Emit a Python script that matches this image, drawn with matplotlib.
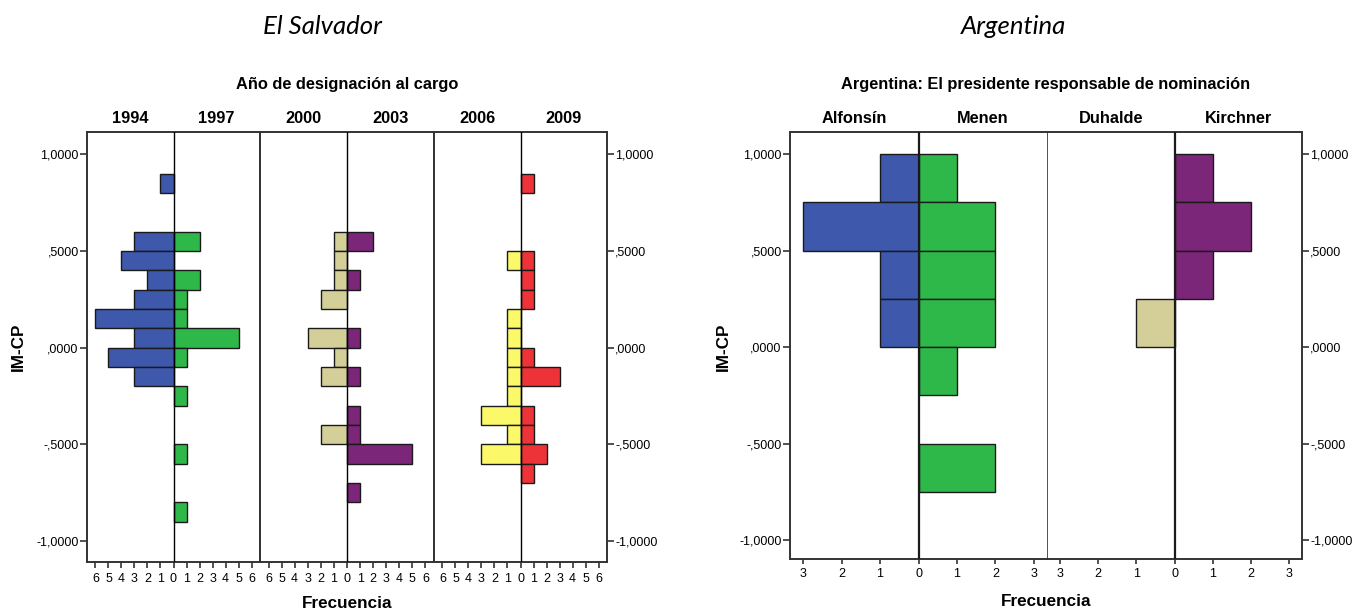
import matplotlib
matplotlib.use('Agg')
from matplotlib import pyplot as plt

plt.rcParams['font.family'] = ['Liberation Sans', 'DejaVu Sans']

# El Salvador: lower bin edges (width 0.1) and counts per year
sv_years = ['1994', '1997', '2000', '2003', '2006', '2009']
sv_1994_bins = [0.8, 0.5, 0.4, 0.3, 0.2, 0.1, 0.0, -0.1, -0.2]
sv_1994_freq = [1, 3, 4, 2, 3, 6, 3, 5, 3]
sv_1997_bins = [0.5, 0.3, 0.2, 0.1, 0.0, -0.1, -0.3, -0.6, -0.9]
sv_1997_freq = [2, 2, 1, 1, 5, 1, 1, 1, 1]
sv_2000_bins = [0.5, 0.4, 0.3, 0.2, 0.0, -0.1, -0.2, -0.5]
sv_2000_freq = [1, 1, 1, 2, 3, 1, 2, 2]
sv_2003_bins = [0.5, 0.3, 0.0, -0.2, -0.4, -0.5, -0.6, -0.8]
sv_2003_freq = [2, 1, 1, 1, 1, 1, 5, 1]
sv_2006_bins = [0.4, 0.1, 0.0, -0.1, -0.2, -0.3, -0.4, -0.5, -0.6]
sv_2006_freq = [1, 1, 1, 1, 1, 1, 3, 1, 3]
sv_2009_bins = [0.8, 0.4, 0.3, 0.2, -0.1, -0.2, -0.4, -0.5, -0.6, -0.7]
sv_2009_freq = [1, 1, 1, 1, 1, 3, 1, 1, 2, 1]

# Argentina: lower bin edges (width 0.25) and counts per president
ar_names = ['Alfonsín', 'Menen', 'Duhalde', 'Kirchner']
alfonsin_bins = [0.75, 0.5, 0.25, 0.0]
alfonsin_freq = [1, 3, 1, 1]
menen_bins = [0.75, 0.5, 0.25, 0.0, -0.25, -0.75]
menen_freq = [1, 2, 2, 2, 1, 2]
duhalde_bins = [0.0]
duhalde_freq = [1]
kirchner_bins = [0.75, 0.5, 0.25]
kirchner_freq = [1, 2, 1]

yticks = [1.0, 0.5, 0.0, -0.5, -1.0]
ytick_labels = ['1,0000', ',5000', ',0000', '-,5000', '-1,0000']

colors = ['#3E58AC', '#2EB84A', '#D4CF98', '#7B2679', '#FBF96A', '#EE3338']
LBL = 11.8   # bold label size
TCK = 9      # tick label size

W, H = 1354, 611
fig = plt.figure(figsize=(W / 100, H / 100), dpi=100)


def px_axes(x0, x1, y0, y1):
    return fig.add_axes([x0 / W, 1 - y1 / H, (x1 - x0) / W, (y1 - y0) / H])


def draw_pair(ax, lbins, lfreq, lcol, rbins, rfreq, rcol, width, xmax, nticks,
              ylim, tlen, tpad):
    ax.barh(lbins, [-f for f in lfreq], height=width, align='edge',
            color=lcol, edgecolor='#1a1a1a', linewidth=1, zorder=2)
    ax.barh(rbins, rfreq, height=width, align='edge',
            color=rcol, edgecolor='#1a1a1a', linewidth=1, zorder=2)
    ax.set_xlim(-xmax, xmax)
    ax.set_ylim(*ylim)
    ticks = list(range(-nticks, nticks + 1))
    ax.set_xticks(ticks)
    ax.set_xticklabels([str(abs(t)) for t in ticks], fontsize=TCK)
    ax.tick_params(axis='x', direction='out', length=tlen, width=1.2, pad=tpad,
                   color='#333333', labelcolor='black')
    ax.set_yticks([])
    for s in ax.spines.values():
        s.set_color('#333333')
        s.set_linewidth(1.4)


def side_yticks(ax, right=False):
    if right:
        ax.yaxis.tick_right()
    ax.set_yticks(yticks)
    ax.set_yticklabels(ytick_labels, fontsize=TCK)
    ax.tick_params(axis='y', direction='out', length=5, width=1.2, pad=1,
                   color='#333333', labelcolor='black')


# ---- El Salvador ----
sv_ylim = (-1.108, 1.116)
sv_bins = [sv_1994_bins, sv_1997_bins, sv_2000_bins, sv_2003_bins, sv_2006_bins, sv_2009_bins]
sv_freq = [sv_1994_freq, sv_1997_freq, sv_2000_freq, sv_2003_freq, sv_2006_freq, sv_2009_freq]
edges = [87, 260, 434, 607]
sv_axes = []
for i in range(3):
    ax = px_axes(edges[i], edges[i + 1], 132, 562)
    draw_pair(ax, sv_bins[2 * i], sv_freq[2 * i], colors[2 * i],
              sv_bins[2 * i + 1], sv_freq[2 * i + 1], colors[2 * i + 1], 0.1, 6.65, 6,
              sv_ylim, 4.3, 3.4)
    ax.axvline(0, color='black', linewidth=1, zorder=3)
    sv_axes.append(ax)
    for j, side in enumerate([-3.3, 3.3]):
        ax.text(side, sv_ylim[1] + 0.03, sv_years[2 * i + j], ha='center', va='bottom',
                fontsize=LBL, fontweight='bold')
side_yticks(sv_axes[0])
side_yticks(sv_axes[2], right=True)

fig.text(347 / W, 1 - 85 / H, 'Año de designación al cargo', ha='center', va='center',
         fontsize=LBL, fontweight='bold')
fig.text(347 / W, 1 - 603 / H, 'Frecuencia', ha='center', va='center',
         fontsize=12.3, fontweight='bold')
fig.text(18 / W, 1 - 347 / H, 'IM-CP', ha='center', va='center', rotation=90,
         fontsize=12.3, fontweight='bold')
fig.text(322 / W, 1 - 27 / H, 'El Salvador', ha='center', va='center',
         fontsize=18.5, style='italic', family=['Lato', 'DejaVu Sans'])

# ---- Argentina ----
ar_ylim = (-1.098, 1.114)
ar_bins = [alfonsin_bins, menen_bins, duhalde_bins, kirchner_bins]
ar_freq = [alfonsin_freq, menen_freq, duhalde_freq, kirchner_freq]
ar_colors = [colors[0], colors[1], colors[2], colors[3]]
ar_edges = [790, 1047, 1302]
ar_axes = []
for i in range(2):
    ax = px_axes(ar_edges[i], ar_edges[i + 1], 132, 559)
    draw_pair(ax, ar_bins[2 * i], ar_freq[2 * i], ar_colors[2 * i],
              ar_bins[2 * i + 1], ar_freq[2 * i + 1], ar_colors[2 * i + 1], 0.25, 3.34, 3,
              ar_ylim, 3.6, 2.6)
    ax.axvline(0, color='#1a1a1a', linewidth=1.6, zorder=3)
    ar_axes.append(ax)
    for j, side in enumerate([-1.67, 1.67]):
        ax.text(side, ar_ylim[1] + 0.03, ar_names[2 * i + j], ha='center', va='bottom',
                fontsize=LBL, fontweight='bold')
ar_axes[0].spines['right'].set_linewidth(0.6)
ar_axes[1].spines['left'].set_linewidth(0.6)
side_yticks(ar_axes[0])
side_yticks(ar_axes[1], right=True)

fig.text(1046 / W, 1 - 85 / H, 'Argentina: El presidente responsable de nominación', ha='center',
         va='center', fontsize=LBL, fontweight='bold')
fig.text(1046 / W, 1 - 601 / H, 'Frecuencia', ha='center', va='center',
         fontsize=12.3, fontweight='bold')
fig.text(723 / W, 1 - 347 / H, 'IM-CP', ha='center', va='center', rotation=90,
         fontsize=12.3, fontweight='bold')
fig.text(1013 / W, 1 - 27 / H, 'Argentina', ha='center', va='center',
         fontsize=18.5, style='italic', family=['Lato', 'DejaVu Sans'])

fig.savefig('out.png', dpi=100, facecolor='white')
